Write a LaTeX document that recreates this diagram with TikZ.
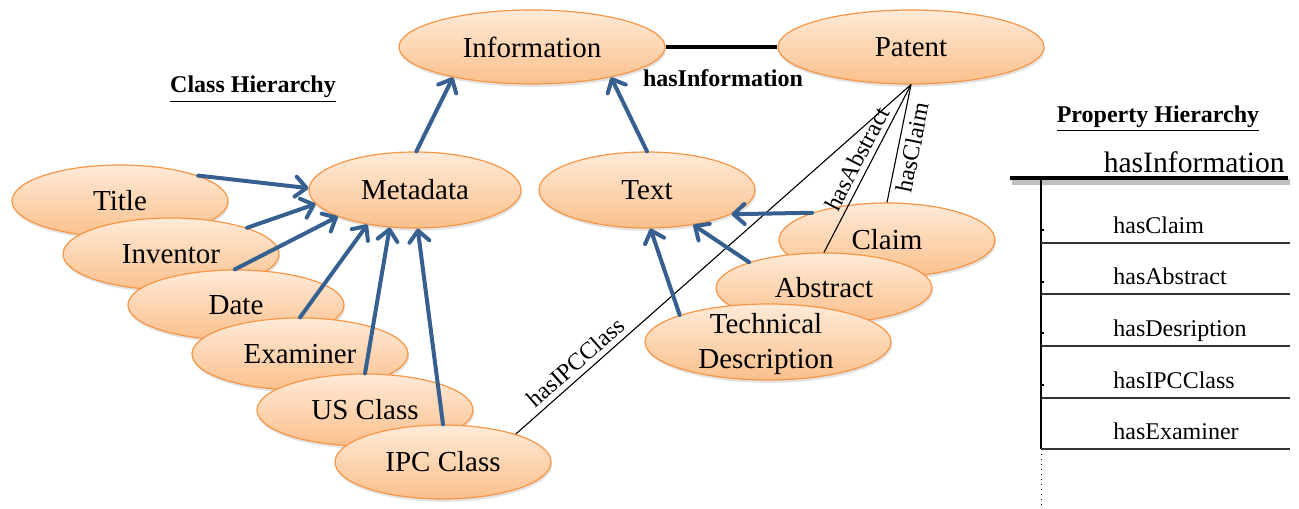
\documentclass[tikz,border=0pt]{standalone}
\usepackage{fontspec}
\setmainfont{Liberation Serif}
\usetikzlibrary{shapes.geometric,arrows.meta,shadows}
\definecolor{edgeorange}{HTML}{F79646}
\definecolor{filltop}{HTML}{FFEAD8}
\definecolor{fillbot}{HTML}{FBC08C}
\definecolor{isablue}{HTML}{36608F}

\begin{document}
\begin{tikzpicture}[x=0.5pt,y=-0.5pt,
  cls/.style={ellipse, draw=edgeorange, line width=0.6pt,
    top color=filltop, bottom color=fillbot, inner sep=0pt,
    font=\fontsize{14.5}{17}\selectfont,
    drop shadow={shadow xshift=0.5pt, shadow yshift=-1.4pt, opacity=0.22}},
  isa/.style={draw=isablue, line width=2pt, line cap=round,
    -{Straight Barb[length=5.5pt,width=10pt,round]}},
  rel/.style={draw=black, line width=0.55pt},
  rellabel/.style={font=\fontsize{12}{14}\selectfont, inner sep=2.5pt},
  heading/.style={font=\bfseries\fontsize{12}{14}\selectfont, inner sep=0pt, anchor=base},
  subprop/.style={font=\fontsize{12}{14}\selectfont, inner sep=0pt, anchor=base west},
  treeline/.style={draw=black!80, line width=0.8pt}
]
\fill[white] (0,0) rectangle (1299,508);
\useasboundingbox (0,0) rectangle (1299,508);

% --- top classes
\node[cls, minimum width=133pt, minimum height=37pt] (info)   at (532,47) {Information};
\node[cls, minimum width=133pt, minimum height=37pt] (patent) at (911,47) {Patent};
\draw[line width=2.2pt] (info.east) -- (patent.west);

% --- intermediate classes
\node[cls, minimum width=106pt, minimum height=38pt] (meta) at (415,190) {Metadata};
\node[cls, minimum width=108pt, minimum height=38pt] (text) at (647,190) {Text};

% --- metadata subclasses (back to front)
\node[cls, minimum width=108pt, minimum height=36pt] (title)    at (120,201) {Title};
\node[cls, minimum width=108pt, minimum height=36pt] (inventor) at (171,254) {Inventor};
\node[cls, minimum width=108pt, minimum height=35pt] (date)     at (236,305) {Date};
\node[cls, minimum width=108pt, minimum height=36pt] (examiner) at (300,354) {Examiner};
\node[cls, minimum width=108pt, minimum height=36pt] (usclass)  at (365,410) {US Class};
\node[cls, minimum width=108pt, minimum height=37pt] (ipc)      at (443,462) {IPC Class};

% --- text subclasses (back to front)
\node[cls, minimum width=108pt, minimum height=37pt] (claim)    at (887,240) {Claim};
\node[cls, minimum width=108pt, minimum height=35pt] (abstract) at (824,288) {Abstract};
\node[cls, minimum width=123pt, minimum height=38pt] (techdesc) at (768,342) {};
\node[font=\fontsize{14.5}{17.5}\selectfont, align=center, inner sep=0pt]
  (techdesctext) at (766,344) {Technical\\Description};

% --- object properties from Patent
\draw[rel] (ipc.21) -- node[sloped, above, pos=0.175, rellabel] (lblipc) {hasIPCClass} (patent.south);
\draw[rel] (abstract.north) -- node[sloped, above, pos=0.52, rellabel] (lblabstract) {hasAbstract} (patent.south);
\draw[rel] (claim.north) -- node[sloped, below, pos=0.49, rellabel] (lblclaim) {hasClaim} (patent.south);

% --- subclass arrows
\draw[isa] (title.18)    -- (meta.179);
\draw[isa] (inventor.19) -- (meta.188);
\draw[isa] (date.92)     -- (meta.199);
\draw[isa] (examiner.90) -- (meta.216);
\draw[isa] (usclass.90)  -- (meta.236);
\draw[isa] (ipc.90)      -- (meta.274);
\draw[isa] (meta.88)     -- (info.201);
\draw[isa] (text.90)     -- (info.339);
\draw[isa] (claim.160)    -- (text.344);
\draw[isa] (abstract.161) -- (text.323);
\draw[isa] (techdesc.163) -- (text.275);

% --- headings
\node[heading] (classhead) at (253,93) {\underline{Class Hierarchy}};
\node[heading] (hasinfo) at (723,87) {hasInformation};
\node[heading] (prophead) at (1158,122) {\underline{Property Hierarchy}};

% --- property hierarchy tree
\node[font=\fontsize{14.8}{17}\selectfont, inner sep=0pt, anchor=base east] (proproot) at (1285,172) {hasInformation};
\draw[line width=2.6pt, black!25] (1012,182) -- (1290,182);
\draw[line width=2.2pt] (1010,178) -- (1288,178);
\draw[line width=0.7pt] (1041,178) -- (1041,449);
\draw[line width=0.5pt, dotted] (1041,449) -- (1041,508);
\foreach \yy in {243,294,346,398,449} \draw[treeline] (1041,\yy) -- (1290,\yy);
\foreach \yy in {230,282,333,385} \draw[line width=0.8pt] (1041,\yy) -- (1044,\yy);
\node[subprop] (pclaim)    at (1113,233) {hasClaim};
\node[subprop] (pabstract) at (1113,284) {hasAbstract};
\node[subprop] (pdesc)     at (1113,336) {hasDesription};
\node[subprop] (pipc)      at (1113,388) {hasIPCClass};
\node[subprop] (pexam)     at (1113,439) {hasExaminer};
\end{tikzpicture}
\end{document}
